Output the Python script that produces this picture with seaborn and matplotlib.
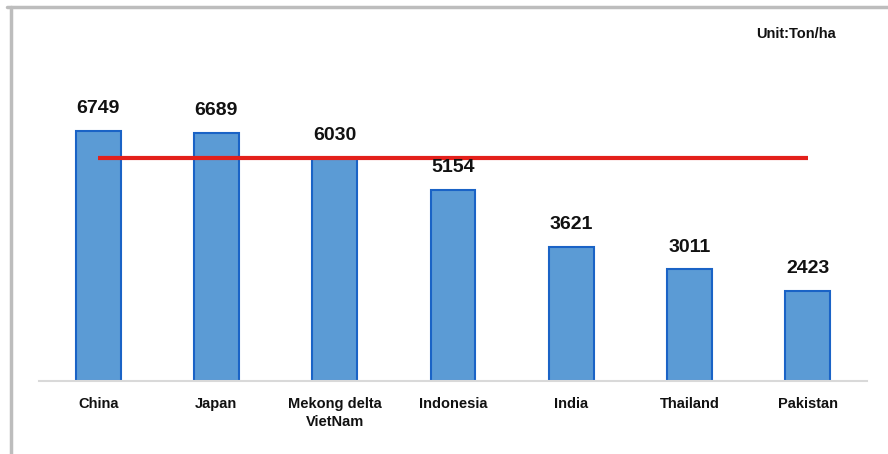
import matplotlib
matplotlib.use("Agg")
import matplotlib.pyplot as plt
import seaborn as sns
import pandas as pd
from matplotlib.lines import Line2D

categories = ["China", "Japan", "Mekong delta\nVietNam", "Indonesia", "India", "Thailand", "Pakistan"]
values = [6749, 6689, 6030, 5154, 3621, 3011, 2423]
reference_value = 6030
unit_label = "Unit:Ton/ha"

sns.set_theme(style="white")
plt.rcParams["font.family"] = ["Liberation Sans", "DejaVu Sans"]

W, H = 888, 454
fig = plt.figure(figsize=(W / 100, H / 100), dpi=100)
base_px = 381
top_px = 21
left_px, right_px = 39, 867
ax = fig.add_axes([left_px / W, (H - base_px) / H, (right_px - left_px) / W, (base_px - top_px) / H])

df = pd.DataFrame({"country": categories, "yield": values})
sns.barplot(data=df, x="country", y="yield", ax=ax, color="#5b9bd5",
            saturation=1, width=0.38, edgecolor="#1a63c6", linewidth=1.5, zorder=2)

px_per_unit = 250 / 6749
ax.set_ylim(0, (base_px - top_px) / px_per_unit)
ax.set_xlim(-0.5, len(categories) - 0.5)

ax.plot([0, len(categories) - 1], [reference_value, reference_value],
        color="#e3201b", linewidth=3, zorder=3, solid_capstyle="butt")

for i, v in enumerate(values):
    ax.annotate(f"{v}", (i, v), xytext=(0, 10), textcoords="offset points",
                ha="center", va="bottom", fontsize=14, fontweight="bold", color="#111111")

for s in ["top", "right", "left"]:
    ax.spines[s].set_visible(False)
ax.spines["bottom"].set_color("#d9d9d9")
ax.spines["bottom"].set_linewidth(1.5)
ax.set_yticks([])
ax.set_xlabel("")
ax.set_ylabel("")
ax.tick_params(axis="x", length=0, pad=11.5, labelsize=10.5)
for lbl in ax.get_xticklabels():
    lbl.set_fontweight("bold")
    lbl.set_color("#111111")
    lbl.set_linespacing(1.35)

fig.text(836 / W, 1 - 34 / H, unit_label, ha="right", va="center",
         fontsize=10.5, fontweight="bold", color="#111111")

# outer frame lines (top and left)
fig.add_artist(Line2D([7 / W, 1], [1 - 7 / H, 1 - 7 / H], transform=fig.transFigure,
                      color="#bdbdbd", linewidth=2.5))
fig.add_artist(Line2D([11 / W, 11 / W], [0, 1 - 7 / H], transform=fig.transFigure,
                      color="#bdbdbd", linewidth=2.5))

fig.savefig("out.png", dpi=100, facecolor="white")
